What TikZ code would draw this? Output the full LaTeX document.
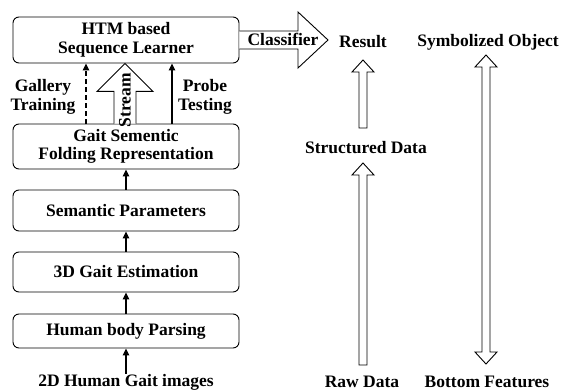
\documentclass[tikz,border=0pt]{standalone}
\usepackage{fontspec}
\setmainfont{Liberation Serif}
\usetikzlibrary{arrows.meta,calc}
\begin{document}
\begin{tikzpicture}[x=1pt,y=-1pt,
  txt/.style={font=\fontsize{17.5}{18.5}\selectfont\bfseries, inner sep=0pt, align=center},
  box/.style={txt, draw, line width=0.9pt, rounded corners=6pt, minimum width=226pt},
  arr/.style={line width=1.1pt, -{Triangle[length=7pt,width=6.5pt]}},
  hollow/.style={draw, line width=0.9pt, fill=white, line join=miter}
]
\useasboundingbox (0,0) rectangle (563,390);
\node[box, minimum height=46pt] (htm) at (126,40) {HTM based\\Sequence Learner};
\node[box, minimum height=45pt] (gsf) at (126,146.5) {Gait Sementic\\Folding Representation};
\node[box, minimum height=41pt] (sp) at (126,210.5) {Semantic Parameters};
\node[box, minimum height=40pt] (ge) at (126,272) {3D Gait Estimation};
\node[box, minimum height=34pt] (hp) at (126,331) {Human body Parsing};
\node[txt] (img) at (126,382) {2D Human Gait images};

\draw[arr] (img.north) -- (hp.south);
\draw[arr] (hp.north) -- (ge.south);
\draw[arr] (ge.north) -- (sp.south);
\draw[arr] (sp.north) -- (gsf.south);

\draw[arr, dash pattern=on 5pt off 3pt] (gsf.north -| 86,0) -- (htm.south -| 86,0);
\draw[arr] (gsf.north -| 172,0) -- (htm.south -| 172,0);
\node[txt] (gal) at (43,97) {Gallery\\Training};
\node[txt] (prb) at (205,97) {Probe\\Testing};

% Stream hollow arrow
\coordinate (st) at (htm.south -| 125,0);
\coordinate (sb) at (gsf.north -| 125,0);
\draw[hollow] ($(sb)+(-11,0)$) -- ($(st)+(-11,28)$) -- ($(st)+(-28,28)$) -- (st)
  -- ($(st)+(28,28)$) -- ($(st)+(11,28)$) -- ($(sb)+(11,0)$);
\node[txt, rotate=90] (stream) at (125,100) {Stream};

% Classifier arrow
\coordinate (cb) at (htm.east);
\coordinate (ct) at (328,40);
\draw[hollow] (cb |- 0,31) -- (298,31) -- (298,12) -- (ct) -- (298,68) -- (298,49) -- (cb |- 0,49);
\node[txt] (cls) at (283,39) {Classifier};

% Right column texts
\node[txt] (res) at (363,42) {Result};
\node[txt] (sym) at (488,42) {Symbolized Object};
\node[txt] (sd) at (366,148) {Structured Data};
\node[txt] (raw) at (362,382) {Raw Data};
\node[txt] (bf) at (487,382) {Bottom Features};

% up hollow arrows
\draw[hollow] (359,128) -- (359,72) -- (352,72) -- (363,60) -- (374,72) -- (367,72) -- (367,128) -- cycle;
\draw[hollow] (359,365) -- (359,175) -- (352,175) -- (363,163) -- (374,175) -- (367,175) -- (367,365) -- cycle;
% double hollow arrow
\draw[hollow] (482,67) -- (475,67) -- (486,55) -- (497,67) -- (490,67) -- (490,352) -- (497,352) -- (486,364) -- (475,352) -- (482,352) -- cycle;
\end{tikzpicture}
\end{document}
